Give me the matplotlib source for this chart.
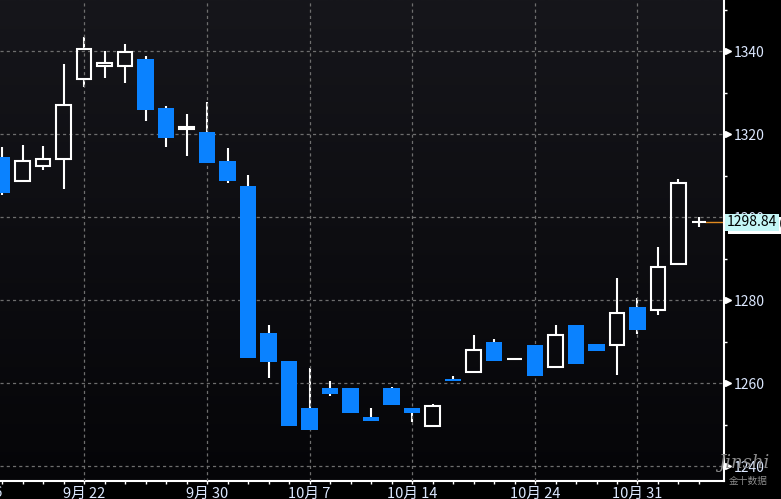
import numpy as np
import matplotlib.pyplot as plt
from matplotlib import transforms
from matplotlib.colors import LinearSegmentedColormap
from matplotlib.ticker import FixedLocator

# daily candles, 9/16 .. 11/3
dates = ['9/16', '9/19', '9/20', '9/21', '9/22', '9/23', '9/26', '9/27', '9/28', '9/29',
         '9/30', '10/3', '10/4', '10/5', '10/6', '10/7', '10/10', '10/11', '10/12', '10/13',
         '10/14', '10/17', '10/18', '10/19', '10/20', '10/21', '10/24', '10/25', '10/26',
         '10/27', '10/28', '10/31', '11/1', '11/2', '11/3']
opens = [1314.5, 1308.9, 1312.3, 1314.0, 1333.3, 1336.4, 1336.4, 1338.1, 1326.3, 1321.2,
         1320.6, 1313.6, 1307.5, 1272.1, 1265.4, 1254.0, 1258.9, 1258.9, 1251.9, 1258.9,
         1254.0, 1249.8, 1261.0, 1262.8, 1270.0, 1265.8, 1269.2, 1264.0, 1274.0,
         1269.5, 1269.2, 1278.4, 1277.7, 1288.8, 1298.8]
highs = [1316.9, 1317.4, 1317.2, 1336.9, 1343.4, 1340.1, 1341.8, 1338.9, 1326.8, 1324.9,
         1327.9, 1316.7, 1310.2, 1274.0, 1265.4, 1263.7, 1260.6, 1258.9, 1254.0, 1259.2,
         1254.0, 1255.0, 1261.8, 1271.6, 1270.7, 1265.8, 1269.2, 1274.0, 1274.0,
         1269.5, 1285.3, 1280.6, 1292.8, 1309.2, 1300.0]
lows = [1305.4, 1308.9, 1311.5, 1306.9, 1331.5, 1333.6, 1332.4, 1323.3, 1317.0, 1314.8,
        1313.1, 1308.3, 1266.2, 1261.3, 1249.8, 1248.8, 1257.0, 1252.9, 1251.0, 1254.8,
        1250.7, 1249.8, 1260.6, 1262.8, 1265.4, 1265.8, 1261.8, 1264.0, 1264.7,
        1267.8, 1262.0, 1271.9, 1276.5, 1288.5, 1297.6]
closes = [1305.9, 1313.7, 1314.0, 1327.2, 1340.5, 1337.3, 1339.8, 1325.9, 1319.2, 1321.8,
          1313.1, 1308.7, 1266.2, 1265.2, 1249.8, 1248.8, 1257.5, 1252.9, 1251.0, 1254.8,
          1252.9, 1254.5, 1260.6, 1268.0, 1265.4, 1265.8, 1261.8, 1271.8, 1264.7,
          1267.8, 1276.9, 1272.9, 1288.0, 1308.2, 1298.84]

tick_idx = [4, 10, 15, 20, 26, 31]
tick_labels = ['9月 22', '9月 30', '10月 7', '10月 14', '10月 24', '10月 31']
y_major = [1240, 1260, 1280, 1300, 1320, 1340]
y_minor = [1250, 1270, 1290, 1310, 1330, 1350]
last_price = 1298.84
last_label_behind = '1298.810'

txt_color = '#dce8ff'
blue = '#0a82ff'
plt.rcParams['font.family'] = ['Noto Sans CJK SC', 'DejaVu Sans']

fig = plt.figure(figsize=(7.81, 4.99), dpi=100, facecolor='black')
ax = fig.add_axes([0, 18 / 499, 724 / 781, 481 / 499])
x0, x1 = -0.1, 35.22
y0, y1 = 1236.5, 1352.4

# dark gradient background
cmap = LinearSegmentedColormap.from_list('bg', ['#050508', '#16161b'])
grad = np.linspace(0, 1, 256).reshape(-1, 1)
ax.imshow(grad, extent=[x0, x1, y0, y1], origin='lower', aspect='auto', cmap=cmap, zorder=0)

# candles
for i in range(len(dates)):
    o, h, l, c = opens[i], highs[i], lows[i], closes[i]
    bot, top = min(o, c), max(o, c)
    if c >= o:
        ax.vlines(i, top, h, color='white', lw=1.5, zorder=2)
        ax.vlines(i, l, bot, color='white', lw=1.5, zorder=2)
        ax.bar(i, top - bot, bottom=bot, width=0.72, facecolor='none',
               edgecolor='white', lw=1.5, zorder=3)
    else:
        ax.vlines(i, l, h, color='white', lw=1.5, zorder=2)
        ax.bar(i, top - bot, bottom=bot, width=0.82, color=blue, lw=0, zorder=3)

# last price line
ax.plot([len(dates) - 1 + 0.36, x1], [last_price, last_price], color='#e08a20', lw=1, zorder=2)

ax.set_xlim(x0, x1)
ax.set_ylim(y0, y1)

# axes styling
for s in ['top', 'left']:
    ax.spines[s].set_visible(False)
ax.spines['right'].set_color('white')
ax.spines['right'].set_linewidth(1.5)
ax.spines['bottom'].set_color('white')
ax.spines['bottom'].set_linewidth(1.5)

ax.yaxis.tick_right()
ax.yaxis.set_major_locator(FixedLocator(y_major))
ax.yaxis.set_minor_locator(FixedLocator(y_minor))
ax.tick_params(axis='y', which='major', length=0, pad=7, labelsize=10, labelcolor=txt_color)
ax.tick_params(axis='y', which='minor', length=2.5, width=1, color='white', direction='out')

ax.set_xticks(tick_idx)
ax.set_xticklabels(tick_labels)
ax.xaxis.set_minor_locator(FixedLocator(range(len(dates))))
ax.tick_params(axis='x', which='both', length=2.5, width=1, color='white', direction='out',
               pad=2, labelsize=10.5, labelcolor=txt_color)

ax.grid(True, which='major', color='#6e6e6e', lw=0.9, linestyle=(0, (2.5, 2.5)))
ax.set_axisbelow(False)
for gl in ax.get_xgridlines() + ax.get_ygridlines():
    gl.set_zorder(1)

# triangle markers on the price axis
tr = transforms.blended_transform_factory(ax.transAxes, ax.transData)
tr_off = transforms.offset_copy(tr, fig=fig, x=4, y=0, units='dots')
ax.plot([1.0] * len(y_major), y_major, linestyle='none', marker='>', markersize=5,
        color='white', transform=tr_off, clip_on=False, zorder=5)

# clipped label at the left edge
trx = transforms.blended_transform_factory(ax.transData, ax.transAxes)
ax.text(-1, -0.011, '9月 16', transform=trx, ha='center', va='top', fontsize=10.5,
        color=txt_color, clip_on=False)

# last price tags
ax.text(1.0, last_price - 0.7, last_label_behind, transform=transforms.offset_copy(
        tr, fig=fig, x=6, y=0, units='dots'), ha='left', va='center', fontsize=10,
        color='black', clip_on=False, zorder=6,
        bbox=dict(boxstyle='square,pad=0.12', fc='white', ec='none'))
ax.text(1.0, last_price, '1298.84', transform=transforms.offset_copy(
        tr, fig=fig, x=3, y=0, units='dots'), ha='left', va='center', fontsize=10,
        color='black', clip_on=False, zorder=7,
        bbox=dict(boxstyle='square,pad=0.12', fc='#c4f6f6', ec='none'))

# watermark
fig.text(0.952, 0.072, 'Jinshi', fontsize=13, style='italic', color='#8c8c8c',
         ha='center', va='center', family='DejaVu Serif')
fig.text(0.958, 0.036, '金十数据', fontsize=7, color='#8c8c8c', ha='center', va='center')

fig.savefig('out.png', dpi=100, facecolor='black')
